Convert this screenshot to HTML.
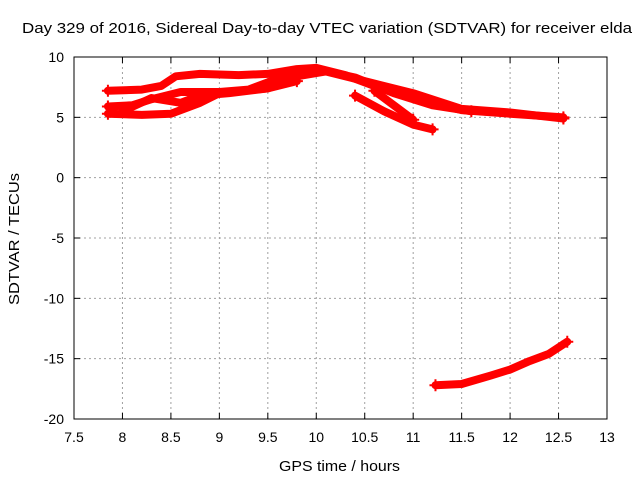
<!DOCTYPE html>
<html><head><meta charset="utf-8"><style>
body{margin:0;background:#fff;}
svg{display:block;font-family:"Liberation Sans",sans-serif;}
</style></head><body>
<svg id="chart" width="640" height="480" xmlns="http://www.w3.org/2000/svg">
<rect width="640" height="480" fill="#fff"/>
<text x="22" y="33" font-size="15" textLength="610" lengthAdjust="spacingAndGlyphs">Day 329 of 2016, Sidereal Day-to-day VTEC variation (SDTVAR) for receiver elda</text>
<text x="279" y="471" font-size="15" textLength="121" lengthAdjust="spacingAndGlyphs">GPS time / hours</text>
<text x="0" y="0" font-size="15" textLength="132" lengthAdjust="spacingAndGlyphs" transform="translate(19 305) rotate(-90)">SDTVAR / TECUs</text>
<g id="grid"></g><g id="series"></g>
<rect x="74" y="57" width="533" height="362" fill="none" stroke="#000" stroke-width="1"/>
</svg>
<script>
const xTicks=[7.5,8,8.5,9,9.5,10,10.5,11,11.5,12,12.5,13];
const yTicks=[10,5,0,-5,-10,-15,-20];
const track1X=[7.85,8.2,8.4,8.55,8.8,9.2,9.5,9.8,10.0,10.3,10.6,11.0,11.5,12.0,12.55];
const track1Y=[7.2,7.3,7.6,8.4,8.6,8.5,8.6,9.0,9.1,8.5,7.6,6.6,5.6,5.3,5.0];
const track2X=[7.85,8.1,8.3,8.6,9.0,9.3,9.6,10.0,10.4,10.8,11.2,11.6];
const track2Y=[5.9,6.0,6.5,7.1,7.1,7.3,8.2,9.0,8.3,7.0,6.0,5.5];
const track3X=[7.85,8.2,8.5,8.8,9.0,9.5,9.8,10.1,10.5,11.0,11.5,12.0,12.55];
const track3Y=[5.3,5.2,5.3,6.2,7.0,7.4,8.4,8.8,8.0,7.0,5.7,5.4,4.9];
const track4X=[8.0,8.3,8.6,8.8,9.1,9.5,9.8];
const track4Y=[5.5,6.6,6.2,6.8,7.0,7.4,8.0];
const track5X=[10.4,10.7,11.0,11.2];
const track5Y=[6.8,5.5,4.4,4.0];
const track6X=[10.6,10.8,11.0];
const track6Y=[7.2,6.0,4.8];
const track7X=[11.23,11.5,11.8,12.0,12.2,12.4,12.59];
const track7Y=[-17.2,-17.1,-16.4,-15.9,-15.2,-14.6,-13.6];
const tracks=[[track1X,track1Y],[track2X,track2Y],[track3X,track3Y],[track4X,track4Y],[track5X,track5Y],[track6X,track6Y],[track7X,track7Y]];
const NS="http://www.w3.org/2000/svg";
const sx=h=>74+(h-7.5)*(533/5.5);
const sy=v=>57+(10-v)*(362/30);
const grid=document.getElementById('grid');
function mk(t,a,p){const e=document.createElementNS(NS,t);for(const k in a)e.setAttribute(k,a[k]);p.appendChild(e);return e;}
xTicks.forEach(t=>{const x=sx(t);
 if(t>7.5&&t<13){const l=mk('line',{x1:x,x2:x,y1:57,y2:419,stroke:'#a0a0a0','stroke-dasharray':'2,3'},grid);
 
 }
 mk('line',{x1:x,x2:x,y1:419,y2:413,stroke:'#000'},grid);mk('line',{x1:x,x2:x,y1:57,y2:63,stroke:'#000'},grid);
 const tx=mk('text',{x:x,y:442,'font-size':14,'text-anchor':'middle'},grid);tx.textContent=t;
 
 });
yTicks.forEach(t=>{const y=sy(t);
 if(t<10&&t>-20){const l=mk('line',{x1:74,x2:607,y1:y,y2:y,stroke:'#a0a0a0','stroke-dasharray':'2,3'},grid);
 
 }
 mk('line',{x1:74,x2:80,y1:y,y2:y,stroke:'#000'},grid);mk('line',{x1:607,x2:601,y1:y,y2:y,stroke:'#000'},grid);
 const tx=mk('text',{x:64,y:y+5,'font-size':14,'text-anchor':'end'},grid);tx.textContent=t;
 
 });
const ser=document.getElementById('series');
tracks.forEach(([X,Y])=>{
 const pts=X.map((h,i)=>sx(h)+','+sy(Y[i])).join(' ');
 const pl=mk('polyline',{points:pts,fill:'none',stroke:'#ff0000','stroke-width':8,'stroke-linejoin':'round','stroke-linecap':'round'},ser);
 
 
 [0,X.length-1].forEach(i=>{const x=sx(X[i]),y=sy(Y[i]);
  mk('path',{d:`M${x-6},${y}H${x+6}M${x},${y-6}V${y+6}`,stroke:'#ff0000','stroke-width':2},ser);});
});
</script>
</body></html>
